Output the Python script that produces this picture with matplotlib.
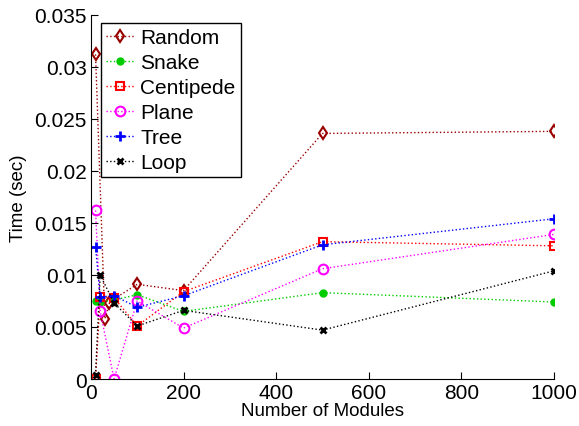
import numpy as np
import matplotlib
matplotlib.use('Agg')
import matplotlib.pyplot as plt

plt.rcParams['font.family'] = ['Liberation Sans', 'DejaVu Sans']

# module counts and timings (sec) per topology
random_x = [10, 30, 40, 50, 100, 200, 500, 1000]
random_t = [0.0312, 0.0058, 0.0073, 0.0077, 0.0091, 0.0085, 0.0236, 0.0238]
snake_x = [10, 20, 50, 100, 200, 500, 1000]
snake_t = [0.0075, 0.0074, 0.0076, 0.0081, 0.0065, 0.0083, 0.0074]
centipede_x = [10, 20, 50, 100, 200, 500, 1000]
centipede_t = [0.0, 0.0079, 0.0078, 0.0051, 0.0084, 0.0132, 0.0128]
plane_x = [10, 20, 50, 100, 200, 500, 1000]
plane_t = [0.0162, 0.0065, 0.0, 0.0075, 0.0049, 0.0106, 0.0139]
tree_x = [10, 20, 50, 100, 200, 500, 1000]
tree_t = [0.0127, 0.0079, 0.0080, 0.0069, 0.0080, 0.0129, 0.0154]
loop_x = [10, 20, 50, 100, 200, 500, 1000]
loop_t = [0.0004, 0.0100, 0.0073, 0.0051, 0.0066, 0.0047, 0.0104]

fig = plt.figure(figsize=(5.79, 4.27), dpi=100)
ax = fig.add_axes([0.157, 0.110, 0.800, 0.853])

ax.plot(random_x, random_t, ':', lw=1.0, color='#990000', marker='d', mfc='none', mec='#990000',
        mew=1.5, ms=6, label='Random')
ax.plot(snake_x, snake_t, ':', lw=1.0, color='#00cc00', marker='o', mfc='#00cc00', mec='#00cc00',
        ms=5, label='Snake')
ax.plot(centipede_x, centipede_t, ':', lw=1.0, color='#ff0000', marker='s', mfc='none', mec='#ff0000',
        mew=1.5, ms=6, label='Centipede')
ax.plot(plane_x, plane_t, ':', lw=1.0, color='#ff00ff', marker='o', mfc='none', mec='#ff00ff',
        mew=1.5, ms=7, label='Plane')
ax.plot(tree_x, tree_t, ':', lw=1.0, color='#0000ff', marker='+', mew=2, ms=7, label='Tree')
ax.plot(loop_x, loop_t, ':', lw=1.0, color='#000000', marker='x', mew=2, ms=4, label='Loop')

ax.set_xlim(0, 1000)
ax.set_ylim(0, 0.035)
ax.set_xticks([0, 200, 400, 600, 800, 1000])
ax.set_yticks(np.arange(0, 0.0351, 0.005))
ax.set_yticklabels(['0', '0.005', '0.01', '0.015', '0.02', '0.025', '0.03', '0.035'])
ax.tick_params(direction='in', labelsize=15, length=5, pad=3)
ax.spines['top'].set_visible(False)
ax.spines['right'].set_visible(False)
ax.set_xlabel('Number of Modules', fontsize=13.5, labelpad=0)
ax.set_ylabel('Time (sec)', fontsize=13.5, labelpad=5)

leg = ax.legend(loc='upper left', bbox_to_anchor=(0.021, 0.978), fontsize=15,
                handlelength=1.4, labelspacing=0.29, borderpad=0.25, handletextpad=0.25,
                borderaxespad=0, fancybox=False, framealpha=1)
leg.get_frame().set_edgecolor('black')
leg.get_frame().set_linewidth(1.0)

fig.savefig('out.png', dpi=100)
